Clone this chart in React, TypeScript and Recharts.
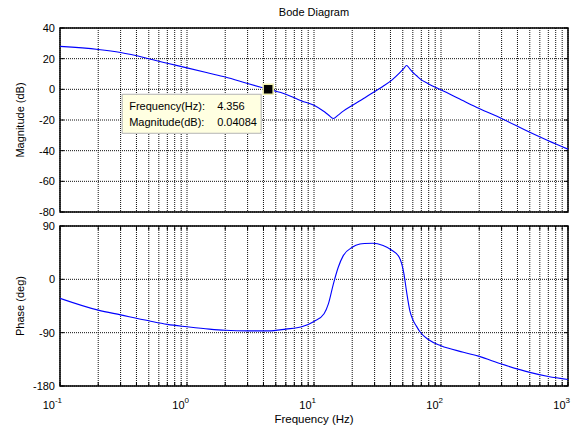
import React from 'react'
import {
  LineChart,
  Line,
  XAxis,
  YAxis,
  CartesianGrid,
  ReferenceDot,
  ReferenceArea,
} from 'recharts'

// frequency (Hz) and the response
const freqs = [
  0.1, 0.2, 0.3, 0.5, 0.7, 1, 1.5, 2, 3, 4.356, 6, 8, 10, 12, 13, 14.2, 15.5, 17,
  20, 23, 25, 29, 35, 41, 47, 51, 53.5, 57, 60, 64, 68, 80, 100, 150, 200, 300,
  500, 700, 1000,
]
const magnitude = [
  28, 26, 24, 20, 17, 14, 10.5, 8, 3.8, 0.04, -3.2, -7.6, -10.4, -14.5, -16.7,
  -19, -16.8, -14.2, -10.5, -7.5, -5.6, -2.2, 2, 6, 10.5, 13.6, 15.5, 13.2, 11,
  9, 7, 3.5, -0.3, -7.5, -12.5, -19, -28, -33.5, -39,
]
const phase = [
  -32, -52, -60, -70, -76, -80, -84, -86, -87, -87, -84, -80, -71, -58, -41, -8,
  20, 40, 54, 59.5, 60.5, 61, 57, 49, 37, 10, -20, -54, -68, -79, -88, -102,
  -112, -123, -130, -143, -157, -164, -169,
]

const gridTicks = [
  0.1, 0.2, 0.3, 0.4, 0.5, 0.6, 0.7, 0.8, 0.9,
  1, 2, 3, 4, 5, 6, 7, 8, 9,
  10, 20, 30, 40, 50, 60, 70, 80, 90,
  100, 200, 300, 400, 500, 600, 700, 800, 900,
  1000,
]
const decadeTicks = [0.1, 1, 10, 100, 1000]
const decadeExp = ['-1', '0', '1', '2', '3']
const magTicks = [-80, -60, -40, -20, 0, 20, 40]
const phaseTicks = [-180, -90, 0, 90]

const marker = { freq: 4.356, mag: 0.04084 }

const data = freqs.map((f, i) => ({ f, mag: magnitude[i], phase: phase[i] }))

const FONT = '"Liberation Sans", Arial, sans-serif'
const W = 582
const PLOT_W = 508
const TOP_H = 184
const BOT_H = 160

// small inward tick marks on the bottom and top edges, matlab style
function makeFreqTick(plotH: number, withLabel: boolean) {
  return function FreqTick(props: any) {
    const { x, y, payload } = props
    const idx = decadeTicks.indexOf(payload.value)
    return (
      <g>
        <line x1={x} x2={x} y1={y} y2={y - 4} stroke="#000" />
        <line x1={x} x2={x} y1={y - plotH} y2={y - plotH + 4} stroke="#000" />
        {withLabel && idx >= 0 && (
          <text x={x + 2} y={y + 23} fontSize={11} fontFamily={FONT} fill="#000">
            <tspan textAnchor="end">10</tspan>
            <tspan dy={-6} fontSize={8}>{decadeExp[idx]}</tspan>
          </text>
        )}
      </g>
    )
  }
}

const TopFreqTick = makeFreqTick(TOP_H, false)
const BotFreqTick = makeFreqTick(BOT_H, true)

function ValueTick(props: any) {
  const { x, y, payload } = props
  // x is the label position, 5px left of the axis
  const ax = x + 5
  return (
    <g>
      <line x1={ax} x2={ax + 4} y1={y} y2={y} stroke="#000" />
      <line x1={ax + PLOT_W} x2={ax + PLOT_W - 4} y1={y} y2={y} stroke="#000" />
      <text x={x} y={y} dy={4} textAnchor="end" fontSize={11} fontFamily={FONT} fill="#000">
        {payload.value}
      </text>
    </g>
  )
}

function DataTip(props: any) {
  const { cx, cy } = props
  if (cx == null || cy == null) return <g />
  return (
    <g fontFamily={FONT} fontSize={11}>
      <rect x={cx - 146} y={cy + 5} width={139} height={39} fill="#ffffe1" stroke="#b4b4b4" />
      <text x={cx - 139} y={cy + 21} fill="#000">Frequency(Hz):</text>
      <text x={cx - 51} y={cy + 21} fill="#000">4.356</text>
      <text x={cx - 139} y={cy + 37} fill="#000">Magnitude(dB):</text>
      <text x={cx - 51} y={cy + 37} fill="#000">0.04084</text>
      <rect x={cx - 5} y={cy - 5} width={10} height={10} fill="#000" stroke="#f0f0b0" strokeWidth={1.5} />
    </g>
  )
}

const gridProps = {
  stroke: '#111',
  strokeDasharray: '1 1',
}

export default function App() {
  return (
    <div style={{ position: 'absolute', left: 0, top: 0, width: W, height: 426, background: '#fff', fontFamily: FONT }}>
      <div style={{ position: 'absolute', left: 0, width: W, top: 6, textAlign: 'center', fontSize: 11, paddingLeft: 46, boxSizing: 'border-box' }}>
        Bode Diagram
      </div>

      <div style={{ position: 'absolute', left: 0, top: 0 }}>
        <LineChart width={W} height={220} data={data} margin={{ top: 28, right: 14, bottom: 8, left: 0 }}>
          <CartesianGrid {...gridProps} />
          <XAxis
            dataKey="f"
            type="number"
            scale="log"
            domain={[0.1, 1000]}
            ticks={gridTicks}
            interval={0}
            allowDataOverflow
            height={0}
            tick={TopFreqTick}
            tickSize={0}
            tickMargin={0}
            axisLine={false}
            tickLine={false}
          />
          <YAxis
            type="number"
            domain={[-80, 40]}
            ticks={magTicks}
            interval={0}
            width={60}
            tick={ValueTick}
            tickLine={false}
            tickSize={0}
            axisLine={false}
            tickMargin={5}
            label={{ value: 'Magnitude (dB)', angle: -90, position: 'insideLeft', offset: 20, style: { fontSize: 11, fill: '#000', textAnchor: 'middle' } }}
          />
          <ReferenceArea x1={0.1} x2={1000} y1={-80} y2={40} fill="none" stroke="#000" strokeWidth={1.5} ifOverflow="extendDomain" />
          <Line dataKey="mag" type="monotone" stroke="#0000ff" strokeWidth={1.1} dot={false} isAnimationActive={false} />
          <ReferenceDot x={marker.freq} y={marker.mag} shape={DataTip} />
        </LineChart>
      </div>

      <div style={{ position: 'absolute', left: 0, top: 220 }}>
        <LineChart width={W} height={206} data={data} margin={{ top: 6, right: 14, bottom: 10, left: 0 }}>
          <CartesianGrid {...gridProps} />
          <XAxis
            dataKey="f"
            type="number"
            scale="log"
            domain={[0.1, 1000]}
            ticks={gridTicks}
            allowDataOverflow
            height={30}
            tick={BotFreqTick}
            tickSize={0}
            tickMargin={0}
            interval={0}
            axisLine={false}
            tickLine={false}
            label={{ value: 'Frequency  (Hz)', position: 'insideBottom', offset: -7, style: { fontSize: 11.5, fill: '#000', whiteSpace: 'pre' } }}
          />
          <YAxis
            type="number"
            domain={[-180, 90]}
            ticks={phaseTicks}
            interval={0}
            width={60}
            tick={ValueTick}
            tickLine={false}
            tickSize={0}
            axisLine={false}
            tickMargin={5}
            label={{ value: 'Phase (deg)', angle: -90, position: 'insideLeft', offset: 20, style: { fontSize: 11, fill: '#000', textAnchor: 'middle' } }}
          />
          <ReferenceArea x1={0.1} x2={1000} y1={-180} y2={90} fill="none" stroke="#000" strokeWidth={1.5} ifOverflow="extendDomain" />
          <Line dataKey="phase" type="monotone" stroke="#0000ff" strokeWidth={1.1} dot={false} isAnimationActive={false} />
        </LineChart>
      </div>
    </div>
  )
}
